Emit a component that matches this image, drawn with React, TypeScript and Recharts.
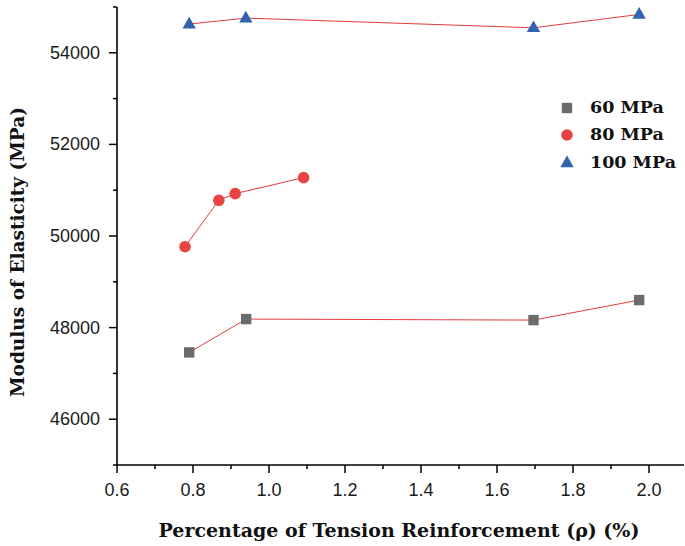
import { ComposedChart, Line, XAxis, YAxis } from "recharts";

// reinforcement ratio (%) and modulus of elasticity (MPa) per concrete grade
const RHO_60 = [0.79, 0.94, 1.696, 1.974];
const E_60 = [47458, 48186, 48164, 48601];

const RHO_80 = [0.779, 0.868, 0.911, 1.091];
const E_80 = [49766, 50780, 50925, 51274];

const RHO_100 = [0.79, 0.939, 1.696, 1.974];
const E_100 = [54627, 54758, 54546, 54837];

const X_TICKS = [0.6, 0.7, 0.8, 0.9, 1.0, 1.1, 1.2, 1.3, 1.4, 1.5, 1.6, 1.7, 1.8, 1.9, 2.0];
const Y_TICKS = [45000, 46000, 47000, 48000, 49000, 50000, 51000, 52000, 53000, 54000, 55000];

const LINE_COLOR = "#e53a3a";
const TICK_FONT = "'Liberation Sans', Arial, sans-serif";
const TITLE_FONT = "'DejaVu Serif', 'Liberation Serif', serif";

type Shape = "square" | "circle" | "triangle";

const toPoints = (xs: number[], ys: number[]) => xs.map((x, i) => ({ x, y: ys[i] }));

const SERIES: { key: string; label: string; shape: Shape; color: string; data: { x: number; y: number }[] }[] = [
  { key: "g60", label: "60 MPa", shape: "square", color: "#6b6b6b", data: toPoints(RHO_60, E_60) },
  { key: "g80", label: "80 MPa", shape: "circle", color: "#e84343", data: toPoints(RHO_80, E_80) },
  { key: "g100", label: "100 MPa", shape: "triangle", color: "#3363b0", data: toPoints(RHO_100, E_100) },
];

function Marker({ cx, cy, shape, color }: { cx: number; cy: number; shape: Shape; color: string }) {
  if (shape === "square") {
    return <rect x={cx - 5.2} y={cy - 5.2} width={10.4} height={10.4} fill={color} />;
  }
  if (shape === "circle") {
    return <circle cx={cx} cy={cy} r={5.8} fill={color} />;
  }
  return (
    <polygon
      points={`${cx},${cy - 7.4} ${cx - 6.7},${cy + 4.3} ${cx + 6.7},${cy + 4.3}`}
      fill={color}
    />
  );
}

function YTick({ x, y, payload }: any) {
  const major = payload.value % 2000 === 0;
  return (
    <g>
      <line x1={x - (major ? 8 : 4)} x2={x} y1={y} y2={y} stroke="#000" strokeWidth={1.5} />
      {major && (
        <text
          x={x - 17}
          y={y}
          textAnchor="end"
          dominantBaseline="central"
          fontFamily={TICK_FONT}
          fontSize={18}
          fill="#1a1a1a"
        >
          {payload.value}
        </text>
      )}
    </g>
  );
}

function XTick({ x, y, payload }: any) {
  const major = Math.round(payload.value * 10) % 2 === 0;
  return (
    <g>
      <line x1={x} x2={x} y1={y} y2={y + (major ? 8 : 4)} stroke="#000" strokeWidth={1.5} />
      {major && (
        <text x={x} y={y + 31} textAnchor="middle" fontFamily={TICK_FONT} fontSize={18} fill="#1a1a1a">
          {payload.value.toFixed(1)}
        </text>
      )}
    </g>
  );
}

function LegendBox() {
  return (
    <div style={{ position: "absolute", left: 556, top: 93 }}>
      {SERIES.map((s) => (
        <div key={s.key} style={{ display: "flex", alignItems: "center", height: 27.5 }}>
          <svg width={24} height={24} style={{ display: "block" }}>
            <Marker cx={11} cy={13} shape={s.shape} color={s.color} />
          </svg>
          <span
            style={{
              marginLeft: 10,
              fontFamily: TITLE_FONT,
              fontWeight: "bold",
              fontSize: 17.5,
              color: "#111",
              lineHeight: "20px",
            }}
          >
            {s.label}
          </span>
        </div>
      ))}
    </div>
  );
}

export default function App() {
  return (
    <div style={{ position: "absolute", left: 0, top: 0, width: 685, height: 546, background: "#fff" }}>
      <ComposedChart width={685} height={546} margin={{ top: 7, right: 1, bottom: 0, left: 0 }}>
        <XAxis
          dataKey="x"
          type="number"
          domain={[0.6, 2.092]}
          ticks={X_TICKS}
          allowDataOverflow
          height={81}
          tickSize={0}
          tickMargin={0}
          tickLine={false}
          tick={<XTick />}
          interval={0}
          axisLine={{ stroke: "#000", strokeWidth: 1.6 }}
          label={() => (
            <text
              x={399}
              y={537}
              textAnchor="middle"
              fontFamily={TITLE_FONT}
              fontWeight="bold"
              fontSize={19}
              fill="#111"
            >
              Percentage of Tension Reinforcement (ρ) (%)
            </text>
          )}
        />
        <YAxis
          type="number"
          domain={[45000, 55000]}
          ticks={Y_TICKS}
          allowDataOverflow
          width={117}
          tickSize={0}
          tickMargin={0}
          tickLine={false}
          tick={<YTick />}
          interval={0}
          axisLine={{ stroke: "#000", strokeWidth: 1.6 }}
          label={() => (
            <text
              x={17}
              y={252}
              transform="rotate(-90 17 252)"
              textAnchor="middle"
              dominantBaseline="central"
              fontFamily={TITLE_FONT}
              fontWeight="bold"
              fontSize={18.5}
              fill="#111"
            >
              Modulus of Elasticity (MPa)
            </text>
          )}
        />
        {SERIES.map((s) => (
          <Line
            key={s.key}
            data={s.data}
            dataKey="y"
            type="linear"
            stroke={LINE_COLOR}
            strokeWidth={1}
            isAnimationActive={false}
            dot={(p: any) => (
              <Marker key={`${s.key}-${p.index}`} cx={p.cx} cy={p.cy} shape={s.shape} color={s.color} />
            )}
            activeDot={false}
          />
        ))}
      </ComposedChart>
      <LegendBox />
    </div>
  );
}
